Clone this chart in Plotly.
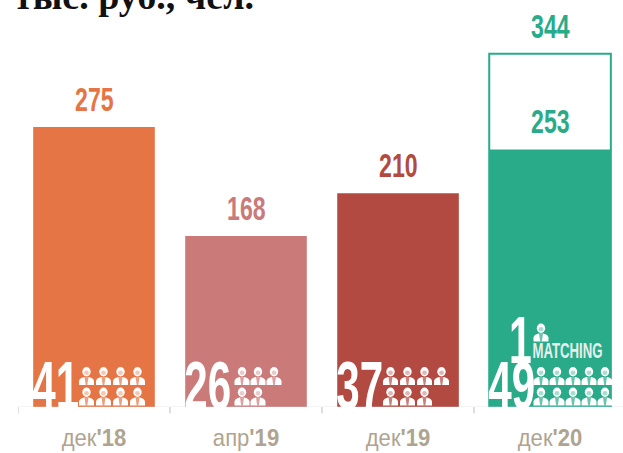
import plotly.graph_objects as go

categories = ["дек<b>'18</b>", "апр<b>'19</b>", "дек<b>'19</b>", "дек<b>'20</b>"]
values = [275, 168, 210, 253]
outline_top = 347
outline_label = "344"
bar_colors = ["#E57544", "#CB7A7A", "#B24A42", "#29AB89"]
staff = ["41", "26", "37", "49"]
icons_per_row = [[4, 4], [3, 2], [4, 3], [5, 5]]
matching_count = "1"
matching_label = "MATCHING"
title_text = "тыс. руб., чел."

PX_PER_UNIT = 1.018
COND = "Liberation Sans, sans-serif"

fig = go.Figure()
fig.add_bar(x=[3], y=[outline_top], width=0.8, marker=dict(color="white", line=dict(color="#29AB89", width=2)), hoverinfo="skip")
fig.add_bar(x=list(range(4)), y=values, width=0.8, marker=dict(color=bar_colors, line=dict(width=0)), hoverinfo="skip")

ann = []
for i, v in enumerate(values):
    ann.append(dict(x=i, y=v, yshift=7, text=f"<b>{v}</b>", showarrow=False, yanchor="bottom",
                    font=dict(family=COND, size=34, color=bar_colors[i])))
    ann.append(dict(x=i, y=0, xshift=-38.5, yshift=-18, text=f"<b>{staff[i]}</b>", showarrow=False, yanchor="bottom",
                    font=dict(family=COND, size=68, color="white")))
ann.append(dict(x=3, y=outline_top, yshift=7, text=f"<b>{outline_label}</b>", showarrow=False, yanchor="bottom",
                font=dict(family=COND, size=34, color="#29AB89")))
ann.append(dict(x=3, y=0, xshift=-30, yshift=28, text=f"<b>{matching_count}</b>", showarrow=False, yanchor="bottom",
                font=dict(family=COND, size=66, color="white")))
ann.append(dict(x=3, y=0, xshift=17.5, yshift=42, text=f"<b>{matching_label}</b>", showarrow=False, yanchor="bottom",
                font=dict(family=COND, size=22, color="#E6EFEB")))
ann.append(dict(xref="paper", yref="paper", x=0, xshift=-6, y=1, yshift=27, yanchor="top", xanchor="left", text=f"<b>{title_text}</b>", showarrow=False,
                font=dict(family="Liberation Serif", size=38, color="#111111")))

def icon(cx, top, bar_color):
    x = lambda d: cx + d
    y = lambda d: top + d
    return [
        dict(type="circle", xref="x2", yref="y2", x0=x(-4.2), x1=x(4.2), y0=y(0), y1=y(9.5), fillcolor="white", line_width=0, layer="above"),
        dict(type="circle", xref="x2", yref="y2", x0=x(-2.4), x1=x(2.4), y0=y(3.5), y1=y(8), fillcolor=bar_color, opacity=0.4, line_width=0, layer="above"),
        dict(type="path", xref="x2", yref="y2", layer="above", fillcolor="white", line_width=0,
             path=f"M{x(-7.5)},{y(18)} L{x(-7.5)},{y(14)} Q{x(-7)},{y(11)} {x(-2.5)},{y(10)} L{x(2.5)},{y(10)} Q{x(7)},{y(11)} {x(7.5)},{y(14)} L{x(7.5)},{y(18)} Z"),
        dict(type="path", xref="x2", yref="y2", layer="above", fillcolor=bar_color, line_width=0, opacity=0.7,
             path=f"M{x(-2)},{y(10)} L{x(2)},{y(10)} L{x(0.8)},{y(18)} L{x(-0.8)},{y(18)} Z"),
    ]

shapes = []
starts = [86.5, 242, 390.5, 541]
steps = [17, 16, 17, 16]
for i, rows in enumerate(icons_per_row):
    for r, n in enumerate(rows):
        for k in range(n):
            shapes += icon(starts[i] + k * steps[i], 367 + r * 20.5, bar_colors[i])
shapes += icon(541, 323.5, bar_colors[3])

fig.update_layout(
    width=623, height=453, autosize=False, margin=dict(l=18, r=0, t=0, b=46),
    barmode="overlay", showlegend=False, paper_bgcolor="white", plot_bgcolor="white",
    annotations=ann, shapes=shapes, bargap=0.2,
    xaxis=dict(range=[-0.5, 3.48], tickvals=list(range(4)), ticktext=categories, showgrid=False, zeroline=False,
               showline=False, tickfont=dict(family=COND, size=24, color="#AFA48F"), ticks="", ticklabelstandoff=14, fixedrange=True),
    yaxis=dict(range=[0, 407 / PX_PER_UNIT], visible=False, fixedrange=True),
    xaxis2=dict(domain=[0, 1], range=[18, 623], overlaying="x", visible=False, fixedrange=True),
    yaxis2=dict(domain=[0, 1], range=[407, 0], overlaying="y", visible=False, fixedrange=True),
)
axis_color = "#D5D5D5"
fig.add_shape(type="line", xref="x", yref="y2", x0=-0.5, x1=3.48, y0=407.5, y1=407.5, line=dict(color=axis_color, width=1.5))
for t in [-0.5, 0.5, 1.5, 2.5]:
    fig.add_shape(type="line", xref="x", yref="paper", x0=t, x1=t, y0=0, y1=-0.016, line=dict(color=axis_color, width=1.5))

# The reference uses a condensed display face; squeeze the installed one horizontally.
post = """
document.body.style.margin='0';
function squeeze(t, s){
  var b = t.getBBox(), c = b.x + b.width/2, old = t.getAttribute('transform') || '';
  t.setAttribute('transform', old + ' translate(' + c + ',0) scale(' + s + ',1) translate(' + (-c) + ',0)');
}
document.querySelectorAll('.annotation-text').forEach(function(t){
  var f = parseFloat(t.style.fontSize);
  if (t.style.fontFamily.indexOf('Serif') >= 0) return;
  squeeze(t, f > 60 ? 0.62 : (f > 30 ? 0.68 : 0.6));
});
document.querySelectorAll('.xtick text').forEach(function(t){ squeeze(t, 0.92); });
"""
fig.write_html("out.html", post_script=post, config=dict(displayModeBar=False))
